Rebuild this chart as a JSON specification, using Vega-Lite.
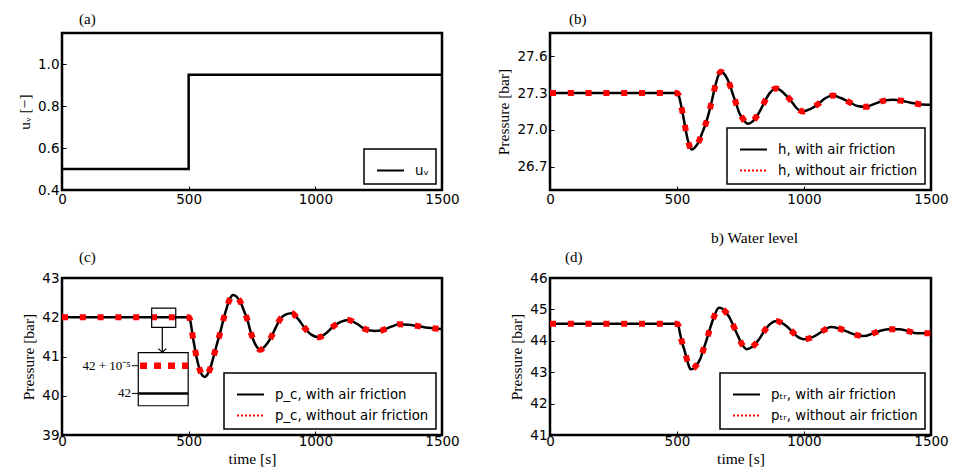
{
  "$schema": "https://vega.github.io/schema/vega-lite/v6.json",
  "background": "white",
  "padding": {"left": 16, "top": 10, "right": 6, "bottom": 1},
  "bounds": "flush",
  "columns": 2,
  "spacing": {"row": 88, "column": 108},
  "resolve": {"scale": {"color": "independent", "x": "independent", "y": "independent"}, "legend": {"color": "independent"}},
  "config": {
    "view": {"stroke": "black", "strokeWidth": 2.5},
    "axis": {"domain": false, "grid": false, "ticks": true, "tickSize": -4, "tickWidth": 1, "tickColor": "black", "labelFont": "DejaVu Sans", "labelFontSize": 13.5, "labelColor": "black", "labelFlush": false, "labelOverlap": false, "tickCount": 10, "titleFont": "Liberation Serif", "titleFontSize": 15.5, "titleFontWeight": "normal", "titleColor": "black"},
    "axisY": {"titlePadding": 5, "labelPadding": 7},
    "axisX": {"titlePadding": 4, "labelPadding": 3, "format": "d"},
    "legend": {"orient": "bottom-right", "offset": 6.5, "strokeColor": "black", "strokeWidth": 1.5, "fillColor": "white", "padding": 7, "labelFont": "DejaVu Sans", "labelFontSize": 13.3, "labelColor": "black", "symbolType": "stroke", "symbolSize": 729, "symbolStrokeWidth": 2, "symbolOffset": 5, "rowPadding": -1.5, "labelOffset": 10},
    "title": {"anchor": "start", "frame": "group", "font": "Liberation Serif", "fontSize": 15, "fontWeight": "normal", "color": "black", "offset": 6}
  },
  "concat": [
    {
      "width": 380, "height": 157,
      "title": {"text": "(a)", "dx": 17},
      "data": {"values": [{"t": 0, "u": 0.5}, {"t": 500, "u": 0.95}, {"t": 1500, "u": 0.95}]},
      "mark": {"type": "line", "interpolate": "step-after", "strokeWidth": 2.5},
      "encoding": {
        "x": {"field": "t", "type": "quantitative", "scale": {"domain": [0, 1500], "nice": false}, "axis": {"values": [0, 500, 1000, 1500], "title": null, "labelPadding": 6}},
        "y": {"field": "u", "type": "quantitative", "scale": {"domain": [0.4, 1.15], "nice": false, "zero": false}, "axis": {"values": [0.4, 0.6, 0.8, 1.0], "format": ".1f"}, "title": "uᵥ [−]"},
        "color": {"datum": "uᵥ", "scale": {"domain": ["uᵥ"], "range": ["black"]}, "legend": {"title": null}}
      }
    },
    {
      "width": 381, "height": 157,
      "title": {"text": "(b)", "dx": 19},
      "data": {"values": [
        {"t": 0, "with": 27.3, "without": 27.3}, {"t": 100, "with": 27.3, "without": 27.3}, {"t": 200, "with": 27.3, "without": 27.3}, {"t": 300, "with": 27.3, "without": 27.3}, {"t": 400, "with": 27.3, "without": 27.3}, {"t": 500, "with": 27.3, "without": 27.3},
        {"t": 505, "with": 27.29, "without": 27.29}, {"t": 512, "with": 27.24, "without": 27.24}, {"t": 520, "with": 27.16, "without": 27.16}, {"t": 530, "with": 27.05, "without": 27.05}, {"t": 540, "with": 26.94, "without": 26.94}, {"t": 549, "with": 26.87, "without": 26.87}, {"t": 558, "with": 26.84, "without": 26.84}, {"t": 570, "with": 26.855, "without": 26.855}, {"t": 589, "with": 26.92, "without": 26.92}, {"t": 600, "with": 26.98, "without": 26.98}, {"t": 613, "with": 27.05, "without": 27.05}, {"t": 633, "with": 27.2, "without": 27.2}, {"t": 652, "with": 27.37, "without": 27.37}, {"t": 664, "with": 27.45, "without": 27.45}, {"t": 672, "with": 27.475, "without": 27.475}, {"t": 684, "with": 27.46, "without": 27.46}, {"t": 697, "with": 27.42, "without": 27.42}, {"t": 709, "with": 27.36, "without": 27.36}, {"t": 720, "with": 27.29, "without": 27.29}, {"t": 731, "with": 27.225, "without": 27.225}, {"t": 745, "with": 27.14, "without": 27.14}, {"t": 761, "with": 27.087, "without": 27.087}, {"t": 771, "with": 27.06, "without": 27.06}, {"t": 780, "with": 27.05, "without": 27.05}, {"t": 792, "with": 27.06, "without": 27.06}, {"t": 810, "with": 27.1, "without": 27.1}, {"t": 828, "with": 27.16, "without": 27.16}, {"t": 845, "with": 27.23, "without": 27.23}, {"t": 865, "with": 27.3, "without": 27.3}, {"t": 889, "with": 27.338, "without": 27.338}, {"t": 910, "with": 27.32, "without": 27.32}, {"t": 925, "with": 27.29, "without": 27.29}, {"t": 944, "with": 27.25, "without": 27.25}, {"t": 970, "with": 27.18, "without": 27.18}, {"t": 996, "with": 27.15, "without": 27.15}, {"t": 1025, "with": 27.17, "without": 27.17}, {"t": 1055, "with": 27.21, "without": 27.21}, {"t": 1085, "with": 27.26, "without": 27.26}, {"t": 1115, "with": 27.28, "without": 27.28}, {"t": 1145, "with": 27.26, "without": 27.26}, {"t": 1181, "with": 27.223, "without": 27.223}, {"t": 1210, "with": 27.195, "without": 27.195}, {"t": 1243, "with": 27.188, "without": 27.188}, {"t": 1275, "with": 27.21, "without": 27.21}, {"t": 1312, "with": 27.237, "without": 27.237}, {"t": 1352, "with": 27.245, "without": 27.245}, {"t": 1385, "with": 27.237, "without": 27.237}, {"t": 1420, "with": 27.222, "without": 27.222}, {"t": 1453, "with": 27.21, "without": 27.21}, {"t": 1500, "with": 27.205, "without": 27.205}
      ]},
      "encoding": {
        "x": {"field": "t", "type": "quantitative", "scale": {"domain": [0, 1500], "nice": false}, "axis": {"values": [0, 500, 1000, 1500], "labelPadding": 6, "titlePadding": 25, "titleX": 204}, "title": "b) Water level"}
      },
      "layer": [
        {"mark": {"type": "line", "interpolate": "monotone", "strokeWidth": 2.5},
         "encoding": {
           "y": {"field": "with", "type": "quantitative", "scale": {"domain": [26.51, 27.79], "nice": false, "zero": false}, "axis": {"values": [26.7, 27.0, 27.3, 27.6], "format": ".1f"}, "title": "Pressure [bar]"},
           "color": {"datum": "h, with air friction", "scale": {"domain": ["h, with air friction", "h, without air friction"], "range": ["black", "#ff0000"]},
             "legend": {"title": null, "encode": {"symbols": {"update": {"strokeDash": {"signal": "indexof(datum.value, 'without') >= 0 ? [2,2] : [1,0]"}, "strokeWidth": {"value": 2}}}}}}
         }},
        {"mark": {"type": "line", "interpolate": "monotone", "strokeWidth": 6, "strokeDash": [6, 11.8], "strokeCap": "butt"},
         "encoding": {
           "y": {"field": "without", "type": "quantitative", "title": "Pressure [bar]"},
           "color": {"datum": "h, without air friction"}
         }}
      ]
    },
    {
      "width": 380, "height": 157,
      "title": {"text": "(c)", "dx": 17},
      "encoding": {
        "x": {"field": "t", "type": "quantitative", "scale": {"domain": [0, 1500], "nice": false}, "axis": {"values": [0, 500, 1000, 1500]}, "title": "time [s]"}
      },
      "layer": [
        {"data": {"values": [
          {"t": 0, "with": 42, "without": 42}, {"t": 100, "with": 42, "without": 42}, {"t": 200, "with": 42, "without": 42}, {"t": 300, "with": 42, "without": 42}, {"t": 400, "with": 42, "without": 42}, {"t": 500, "with": 42, "without": 42},
          {"t": 505, "with": 41.95, "without": 41.95}, {"t": 510, "with": 41.78, "without": 41.78}, {"t": 514, "with": 41.6, "without": 41.6}, {"t": 521, "with": 41.33, "without": 41.33}, {"t": 528, "with": 41.08, "without": 41.08}, {"t": 536, "with": 40.84, "without": 40.84}, {"t": 543, "with": 40.68, "without": 40.68}, {"t": 552, "with": 40.54, "without": 40.54}, {"t": 563, "with": 40.48, "without": 40.48}, {"t": 573, "with": 40.53, "without": 40.53}, {"t": 583, "with": 40.66, "without": 40.66}, {"t": 593, "with": 40.87, "without": 40.87}, {"t": 603, "with": 41.11, "without": 41.11}, {"t": 612, "with": 41.33, "without": 41.33}, {"t": 622, "with": 41.55, "without": 41.55}, {"t": 632, "with": 41.81, "without": 41.81}, {"t": 642, "with": 42.06, "without": 42.06}, {"t": 652, "with": 42.28, "without": 42.28}, {"t": 662, "with": 42.46, "without": 42.46}, {"t": 675, "with": 42.57, "without": 42.57}, {"t": 688, "with": 42.53, "without": 42.53}, {"t": 697, "with": 42.46, "without": 42.46}, {"t": 705, "with": 42.38, "without": 42.38}, {"t": 718, "with": 42.17, "without": 42.17}, {"t": 731, "with": 41.95, "without": 41.95}, {"t": 745, "with": 41.62, "without": 41.62}, {"t": 760, "with": 41.35, "without": 41.35}, {"t": 772, "with": 41.22, "without": 41.22}, {"t": 784, "with": 41.17, "without": 41.17}, {"t": 795, "with": 41.22, "without": 41.22}, {"t": 810, "with": 41.33, "without": 41.33}, {"t": 826, "with": 41.5, "without": 41.5}, {"t": 843, "with": 41.73, "without": 41.73}, {"t": 859, "with": 41.93, "without": 41.93}, {"t": 880, "with": 42.06, "without": 42.06}, {"t": 907, "with": 42.1, "without": 42.1}, {"t": 930, "with": 41.97, "without": 41.97}, {"t": 959, "with": 41.72, "without": 41.72}, {"t": 985, "with": 41.55, "without": 41.55}, {"t": 1014, "with": 41.49, "without": 41.49}, {"t": 1040, "with": 41.58, "without": 41.58}, {"t": 1070, "with": 41.76, "without": 41.76}, {"t": 1100, "with": 41.88, "without": 41.88}, {"t": 1130, "with": 41.93, "without": 41.93}, {"t": 1165, "with": 41.83, "without": 41.83}, {"t": 1196, "with": 41.7, "without": 41.7}, {"t": 1235, "with": 41.65, "without": 41.65}, {"t": 1264, "with": 41.67, "without": 41.67}, {"t": 1300, "with": 41.76, "without": 41.76}, {"t": 1330, "with": 41.82, "without": 41.82}, {"t": 1365, "with": 41.81, "without": 41.81}, {"t": 1400, "with": 41.78, "without": 41.78}, {"t": 1445, "with": 41.73, "without": 41.73}, {"t": 1500, "with": 41.7, "without": 41.7}
        ]},
         "layer": [
          {"mark": {"type": "line", "interpolate": "monotone", "strokeWidth": 2.5},
           "encoding": {
             "y": {"field": "with", "type": "quantitative", "scale": {"domain": [39, 43], "nice": false, "zero": false}, "axis": {"values": [39, 40, 41, 42, 43], "tickCount": 10, "format": "d"}, "title": "Pressure [bar]"},
             "color": {"datum": "p_c, with air friction", "scale": {"domain": ["p_c, with air friction", "p_c, without air friction"], "range": ["black", "#ff0000"]},
               "legend": {"title": null, "encode": {"symbols": {"update": {"strokeDash": {"signal": "indexof(datum.value, 'without') >= 0 ? [2,2] : [1,0]"}, "strokeWidth": {"value": 2}}}}}}
           }},
          {"mark": {"type": "line", "interpolate": "monotone", "strokeWidth": 6, "strokeDash": [6, 11.8], "strokeCap": "butt"},
           "encoding": {
             "y": {"field": "without", "type": "quantitative", "title": "Pressure [bar]"},
             "color": {"datum": "p_c, without air friction"}
           }}
         ]},
        {"data": {"values": [{"t": 354, "t2": 449, "v": 41.74, "v2": 42.23, "kind": "small"}, {"t": 301, "t2": 498, "v": 39.745, "v2": 41.1, "kind": "big"}]},
         "mark": {"type": "rect", "fill": "white", "fillOpacity": 0, "stroke": "black", "strokeWidth": 1.2},
         "encoding": {
           "x2": {"field": "t2"},
           "y": {"field": "v", "type": "quantitative", "title": "Pressure [bar]"},
           "y2": {"field": "v2"},
           "fillOpacity": {"condition": {"test": "datum.kind === 'big'", "value": 1}, "value": 0}
         }},
        {"data": {"values": [{"t": 396, "v": 41.74, "v2": 41.11}]},
         "mark": {"type": "rule", "stroke": "black", "strokeWidth": 1.2},
         "encoding": {"y": {"field": "v", "type": "quantitative", "title": "Pressure [bar]"}, "y2": {"field": "v2"}}},
        {"data": {"values": [{"t": 396, "v": 41.11}]},
         "mark": {"type": "point", "shape": "M-1,-0.9L0,0L1,-0.9", "size": 64, "filled": false, "stroke": "black", "strokeWidth": 1.2, "opacity": 1},
         "encoding": {"y": {"field": "v", "type": "quantitative", "title": "Pressure [bar]"}}},
        {"data": {"values": [{"t": 301, "t2": 498, "v": 40.06}, {"t": 276, "t2": 301, "v": 40.06}, {"t": 276, "t2": 301, "v": 40.765}]},
         "mark": {"type": "rule", "stroke": "black"},
         "encoding": {"x2": {"field": "t2"}, "y": {"field": "v", "type": "quantitative", "title": "Pressure [bar]"},
           "strokeWidth": {"condition": {"test": "datum.t2 - datum.t > 100", "value": 2.5}, "value": 1}}},
        {"data": {"values": [{"t": 308, "t2": 498, "v": 40.765}]},
         "mark": {"type": "rule", "stroke": "#ff0000", "strokeWidth": 6.5, "strokeDash": [7, 7], "strokeCap": "butt"},
         "encoding": {"x2": {"field": "t2"}, "y": {"field": "v", "type": "quantitative", "title": "Pressure [bar]"}}},
        {"data": {"values": [{"t": 272, "v": 40.765, "label": "42 + 10⁻⁵"}, {"t": 272, "v": 40.06, "label": "42"}]},
         "mark": {"type": "text", "align": "right", "baseline": "middle", "font": "Liberation Serif", "fontSize": 13, "color": "black"},
         "encoding": {"y": {"field": "v", "type": "quantitative", "title": "Pressure [bar]"}, "text": {"field": "label"}}}
      ]
    },
    {
      "width": 381, "height": 157,
      "title": {"text": "(d)", "dx": 15},
      "data": {"values": [
        {"t": 0, "with": 44.54, "without": 44.54}, {"t": 100, "with": 44.54, "without": 44.54}, {"t": 200, "with": 44.54, "without": 44.54}, {"t": 300, "with": 44.54, "without": 44.54}, {"t": 400, "with": 44.54, "without": 44.54}, {"t": 500, "with": 44.54, "without": 44.54},
        {"t": 505, "with": 44.5, "without": 44.5}, {"t": 509, "with": 44.35, "without": 44.35}, {"t": 514, "with": 44.15, "without": 44.15}, {"t": 521, "with": 43.92, "without": 43.92}, {"t": 530, "with": 43.68, "without": 43.68}, {"t": 541, "with": 43.35, "without": 43.35}, {"t": 548, "with": 43.17, "without": 43.17}, {"t": 554, "with": 43.09, "without": 43.09}, {"t": 563, "with": 43.11, "without": 43.11}, {"t": 574, "with": 43.2, "without": 43.2}, {"t": 583, "with": 43.3, "without": 43.3}, {"t": 593, "with": 43.45, "without": 43.45}, {"t": 603, "with": 43.7, "without": 43.7}, {"t": 613, "with": 43.94, "without": 43.94}, {"t": 623, "with": 44.2, "without": 44.2}, {"t": 633, "with": 44.47, "without": 44.47}, {"t": 645, "with": 44.75, "without": 44.75}, {"t": 655, "with": 44.95, "without": 44.95}, {"t": 665, "with": 45.05, "without": 45.05}, {"t": 675, "with": 45.04, "without": 45.04}, {"t": 690, "with": 44.93, "without": 44.93}, {"t": 707, "with": 44.74, "without": 44.74}, {"t": 722, "with": 44.48, "without": 44.48}, {"t": 737, "with": 44.21, "without": 44.21}, {"t": 755, "with": 43.9, "without": 43.9}, {"t": 774, "with": 43.73, "without": 43.73}, {"t": 795, "with": 43.8, "without": 43.8}, {"t": 823, "with": 44.05, "without": 44.05}, {"t": 845, "with": 44.33, "without": 44.33}, {"t": 866, "with": 44.53, "without": 44.53}, {"t": 892, "with": 44.63, "without": 44.63}, {"t": 910, "with": 44.58, "without": 44.58}, {"t": 928, "with": 44.49, "without": 44.49}, {"t": 955, "with": 44.28, "without": 44.28}, {"t": 980, "with": 44.1, "without": 44.1}, {"t": 1000, "with": 44.05, "without": 44.05}, {"t": 1020, "with": 44.08, "without": 44.08}, {"t": 1042, "with": 44.15, "without": 44.15}, {"t": 1075, "with": 44.32, "without": 44.32}, {"t": 1105, "with": 44.44, "without": 44.44}, {"t": 1135, "with": 44.4, "without": 44.4}, {"t": 1170, "with": 44.29, "without": 44.29}, {"t": 1200, "with": 44.2, "without": 44.2}, {"t": 1236, "with": 44.15, "without": 44.15}, {"t": 1270, "with": 44.23, "without": 44.23}, {"t": 1304, "with": 44.33, "without": 44.33}, {"t": 1340, "with": 44.37, "without": 44.37}, {"t": 1374, "with": 44.37, "without": 44.37}, {"t": 1410, "with": 44.31, "without": 44.31}, {"t": 1444, "with": 44.24, "without": 44.24}, {"t": 1500, "with": 44.24, "without": 44.24}
      ]},
      "encoding": {
        "x": {"field": "t", "type": "quantitative", "scale": {"domain": [0, 1500], "nice": false}, "axis": {"values": [0, 500, 1000, 1500]}, "title": "time [s]"}
      },
      "layer": [
        {"mark": {"type": "line", "interpolate": "monotone", "strokeWidth": 2.5},
         "encoding": {
           "y": {"field": "with", "type": "quantitative", "scale": {"domain": [41, 46], "nice": false, "zero": false}, "axis": {"values": [41, 42, 43, 44, 45, 46], "tickCount": 10, "format": "d"}, "title": "Pressure [bar]"},
           "color": {"datum": "pₜᵣ, with air friction", "scale": {"domain": ["pₜᵣ, with air friction", "pₜᵣ, without air friction"], "range": ["black", "#ff0000"]},
             "legend": {"title": null, "encode": {"symbols": {"update": {"strokeDash": {"signal": "indexof(datum.value, 'without') >= 0 ? [2,2] : [1,0]"}, "strokeWidth": {"value": 2}}}}}}
         }},
        {"mark": {"type": "line", "interpolate": "monotone", "strokeWidth": 6, "strokeDash": [6, 11.8], "strokeCap": "butt"},
         "encoding": {
           "y": {"field": "without", "type": "quantitative", "title": "Pressure [bar]"},
           "color": {"datum": "pₜᵣ, without air friction"}
         }}
      ]
    }
  ]
}
